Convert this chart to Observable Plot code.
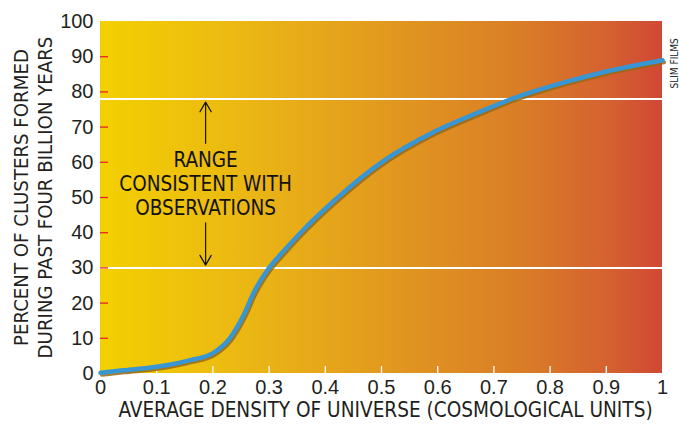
<!DOCTYPE html>
<html>
<head>
<meta charset="utf-8">
<script src="https://cdn.jsdelivr.net/npm/d3@7"></script>
<script src="https://cdn.jsdelivr.net/npm/@observablehq/plot@0.6"></script>
<style>
  html, body { margin: 0; padding: 0; background: #ffffff; }
  #chart { width: 679px; height: 424px; }
</style>
</head>
<body>
<div id="chart"></div>
<script>
// ---- data ----
const densities = [0, 0.04, 0.1, 0.16, 0.2, 0.23, 0.255, 0.273, 0.3, 0.326, 0.356, 0.415, 0.5, 0.593, 0.676, 0.735, 0.83, 0.9, 1];
const percents  = [0.2, 0.9, 1.9, 3.8, 5.8, 10, 16.7, 23.1, 30, 34.8, 40, 49, 60, 68.6, 74.4, 78.2, 82.9, 85.8, 89];
const rangeBounds = [78, 30];
const xTicks = [0, 0.1, 0.2, 0.3, 0.4, 0.5, 0.6, 0.7, 0.8, 0.9, 1];
const xTickLabels = ["0", "0.1", "0.2", "0.3", "0.4", "0.5", "0.6", "0.7", "0.8", "0.9", "1"];
const yTicks = [0, 10, 20, 30, 40, 50, 60, 70, 80, 90, 100];
const yInnerTicks = [10, 20, 30, 40, 50, 60, 70, 80, 90];
const xInnerTicks = [0.1, 0.2, 0.3, 0.4, 0.5, 0.6, 0.7, 0.8, 0.9];
const annotationText = ["RANGE\nCONSISTENT WITH\nOBSERVATIONS"];
const annotationX = [0.187];
const annotationY = [54];
const arrowX = [0.187, 0.187];
const arrowFrom = [65.4, 42.8];
const arrowTo = [77.1, 30.8];
const xTitle = "AVERAGE DENSITY OF UNIVERSE (COSMOLOGICAL UNITS)";
const yTitle = "PERCENT OF CLUSTERS FORMED\nDURING PAST FOUR BILLION YEARS";
const credit = "SLIM FILMS";

const curve = densities.map((d, i) => ({density: d, percent: percents[i]}));
const arrows = arrowX.map((x, i) => ({x, y1: arrowFrom[i], y2: arrowTo[i]}));
const titleFont = "'DejaVu Sans Condensed', 'Liberation Sans', sans-serif";
const numFont = "'Liberation Sans', Arial, sans-serif";
const ink = "#231f20";

const plot = Plot.plot({
  width: 679,
  height: 424,
  marginLeft: 100,
  marginRight: 17,
  marginTop: 21,
  marginBottom: 51,
  style: {fontFamily: titleFont, background: "#ffffff", color: ink, overflow: "visible"},
  x: {domain: [0, 1]},
  y: {domain: [0, 100]},
  marks: [
    Plot.rect([{x1: 0, x2: 1, y1: 0, y2: 100}], {x1: "x1", x2: "x2", y1: "y1", y2: "y2", fill: "url(#bgGrad)"}),
    Plot.ruleY(rangeBounds, {stroke: "#ffffff", strokeWidth: 2}),
    Plot.axisY({ticks: yInnerTicks, tickSize: 8, dx: 8, stroke: "#e8231f", strokeWidth: 1.3, tickFormat: () => "", label: null}),
    Plot.axisX({ticks: xInnerTicks, tickSize: 7, dy: -7, stroke: "#ffffff", strokeWidth: 1.3, tickFormat: () => "", label: null}),
    Plot.axisY({ticks: yTicks, tickSize: 0, tickPadding: 7, fontSize: 20, fontFamily: numFont, fill: ink, label: null}),
    Plot.axisX({ticks: xTicks, tickSize: 0, tickPadding: 6, fontSize: 20, fontFamily: numFont, fill: ink, label: null,
      tickFormat: (d) => xTickLabels[xTicks.indexOf(d)]}),
    Plot.line(curve, {x: "density", y: "percent", curve: "monotone-x", stroke: "#9a6812", strokeWidth: 4, dx: 1.5, dy: 2, strokeOpacity: 0.85}),
    Plot.line(curve, {x: "density", y: "percent", curve: "monotone-x", stroke: "#3796d3", strokeWidth: 4.5}),
    Plot.arrow(arrows, {x: "x", y1: "y1", y2: "y2", stroke: "#111111", strokeWidth: 1.2, headLength: 14, bend: 0}),
    Plot.text(annotationText, {x: annotationX, y: annotationY, text: (d) => d, fontSize: 20.5, fill: "#111111", lineHeight: 1.17, textAnchor: "middle"}),
    Plot.text([xTitle], {frameAnchor: "bottom", dy: 43, dx: 4, textAnchor: "middle", fontSize: 20.6, fill: ink, text: (d) => d}),
    Plot.text([yTitle], {frameAnchor: "left", dx: -68, rotate: -90, textAnchor: "middle", fontSize: 20.2, fill: ink, lineHeight: 1.2, text: (d) => d}),
    Plot.text([credit], {frameAnchor: "top-right", dx: 8, dy: 67, rotate: -90, fontSize: 10, fill: "#222222", textAnchor: "start", text: (d) => d})
  ]
});

// gradient definition for the background
const ns = "http://www.w3.org/2000/svg";
const defs = document.createElementNS(ns, "defs");
const grad = document.createElementNS(ns, "linearGradient");
grad.setAttribute("id", "bgGrad");
grad.setAttribute("x1", "0"); grad.setAttribute("x2", "1");
grad.setAttribute("y1", "0"); grad.setAttribute("y2", "0");
const stops = [[0, "#f3d000"], [0.25, "#ebb813"], [0.5, "#e29a1e"], [0.75, "#d97d27"], [0.9, "#d5622f"], [1, "#d04834"]];
for (const [o, c] of stops) {
  const s = document.createElementNS(ns, "stop");
  s.setAttribute("offset", o);
  s.setAttribute("stop-color", c);
  grad.appendChild(s);
}
defs.appendChild(grad);
plot.insertBefore(defs, plot.firstChild);
document.getElementById("chart").appendChild(plot);
</script>
</body>
</html>
